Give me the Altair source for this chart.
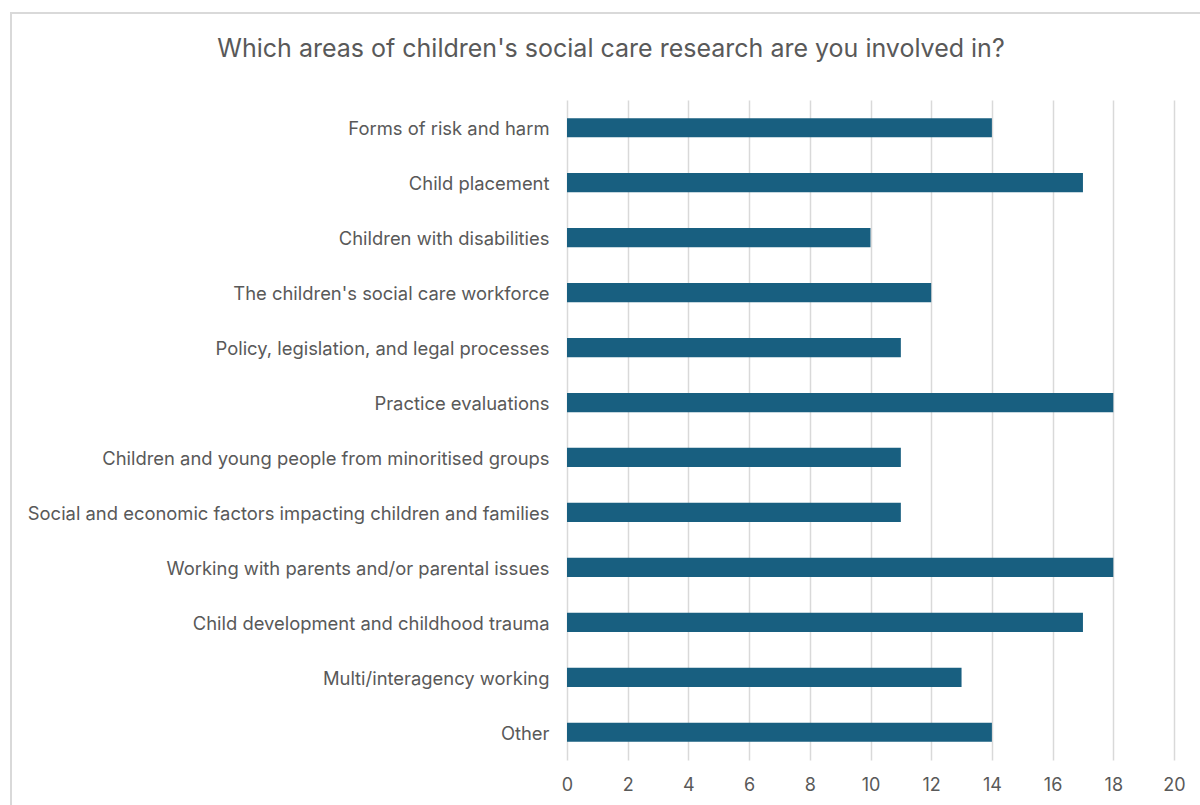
import altair as alt
import pandas as pd

categories = [
    "Forms of risk and harm",
    "Child placement",
    "Children with disabilities",
    "The children's social care workforce",
    "Policy, legislation, and legal processes",
    "Practice evaluations",
    "Children and young people from minoritised groups",
    "Social and economic factors impacting children and families",
    "Working with parents and/or parental issues",
    "Child development and childhood trauma",
    "Multi/interagency working",
    "Other",
]
counts = [14, 17, 10, 12, 11, 18, 11, 11, 18, 17, 13, 14]
x_ticks = list(range(0, 21, 2))
title_text = ["Which areas of children's social care research are you involved in?"]

df = pd.DataFrame({"area": categories, "count": counts})
FONT = "Inter"
TXT = "#595959"

bars = alt.Chart(df).mark_bar(color="#185f80").encode(
    x=alt.X("count:Q", scale=alt.Scale(domain=[0, 20], nice=False),
            axis=alt.Axis(values=x_ticks, title=None, grid=True, gridColor="#d9d9d9",
                          gridWidth=1.5, domain=False, ticks=False, labelFontSize=18,
                          labelColor=TXT, labelFont=FONT, labelPadding=16, labelFlush=False)),
    y=alt.Y("area:N", sort=categories,
            scale=alt.Scale(paddingInner=0.65, paddingOuter=0.33),
            axis=alt.Axis(title=None, domain=False, ticks=False, labelFontSize=18.4,
                          labelColor=TXT, labelFont=FONT, labelPadding=18, labelLimit=600,
                          labelOffset=1.5)),
)

border = alt.Chart(df).mark_rect(fill=None, stroke="#d9d9d9", strokeWidth=2, clip=False).encode(
    x=alt.value(-556), x2=alt.value(650), y=alt.value(-87), y2=alt.value(720)
)

title = alt.Chart(pd.DataFrame({"t": title_text})).mark_text(
    font=FONT, fontSize=25, color=TXT, align="center", baseline="middle"
).encode(text="t:N", x=alt.value(44), y=alt.value(-51))

chart = alt.layer(border, bars, title).properties(
    width=607, height=660,
    autosize=alt.AutoSizeParams(type="none"),
    padding={"left": 567, "top": 100, "right": 26, "bottom": 45},
    background="white",
).configure_view(stroke=None)

chart.save("out.html", embed_options={"renderer": "svg", "actions": False})
